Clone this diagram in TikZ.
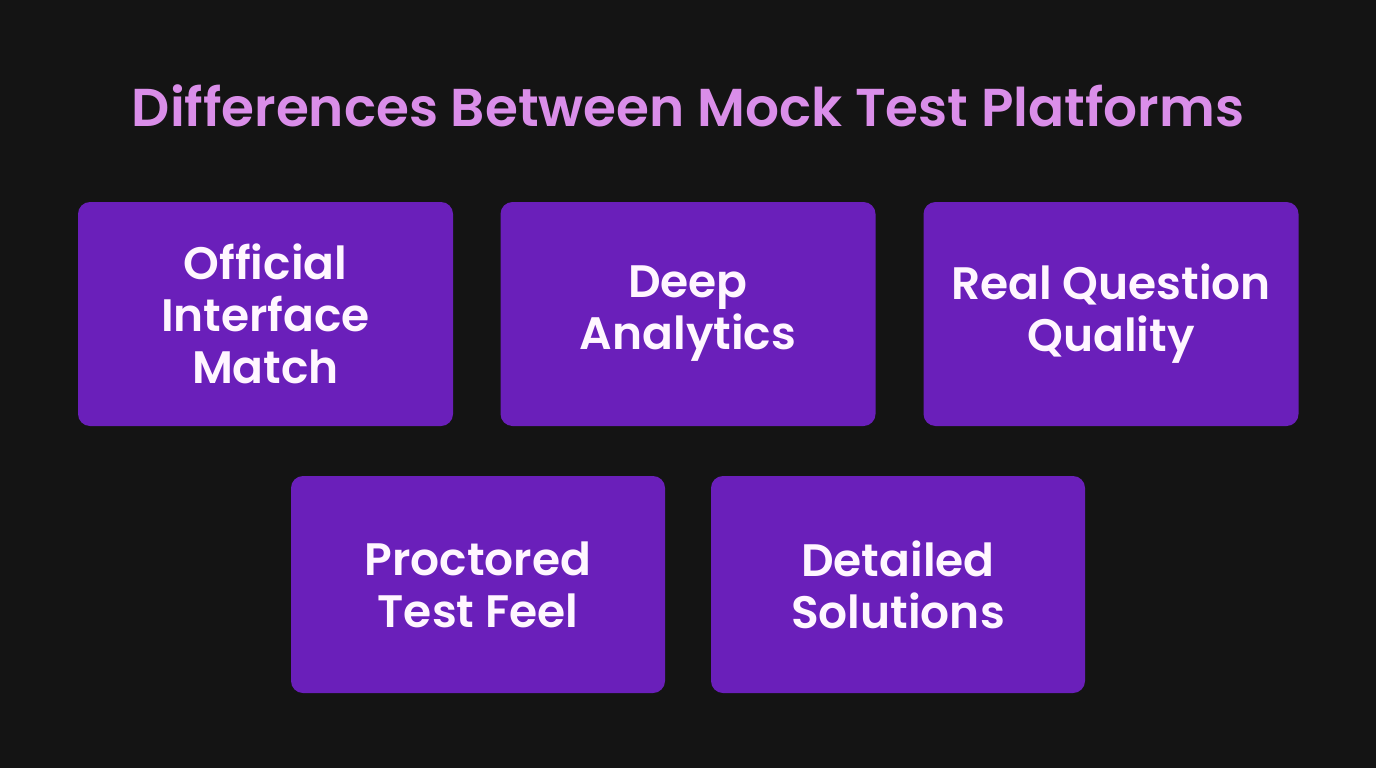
\documentclass[tikz,border=0pt]{standalone}
\usepackage{fontspec}
\setmainfont{Poppins}[BoldFont={Poppins SemiBold}]

\definecolor{bgdark}{HTML}{141414}
\definecolor{cardfill}{HTML}{6A1FBA}
\definecolor{titlepink}{HTML}{DA8EE9}
\definecolor{cardtext}{HTML}{FFF6FF}

\tikzset{
  card/.style={fill=cardfill, rounded corners=12pt, align=center, text=cardtext,
    font=\fontsize{45.5}{52}\selectfont\bfseries, inner sep=0pt},
  topcard/.style={card, minimum width=375pt, minimum height=224pt},
  lowcard/.style={card, minimum width=374pt, minimum height=217pt}
}

\begin{document}
\begin{tikzpicture}[x=1pt,y=-1pt]
            \fill[bgdark] (0,0) rectangle (1376,768);
            \useasboundingbox (0,0) rectangle (1376,768);
            \node[text=titlepink, font=\fontsize{53.3}{60}\selectfont\bfseries] (title) at (688,106) {Differences Between Mock Test Platforms};
            % top row
            \node[topcard] (official) at (265.5,314) {Official\\Interface\\Match};
            \node[topcard] (analytics) at (688,314) {Deep\\Analytics};
            \node[topcard] (quality) at (1111,314) {Real Question\\Quality};
            % bottom row
            \node[lowcard] (proctored) at (478,584.5) {Proctored\\Test Feel};
            \node[lowcard] (solutions) at (898,584.5) {Detailed\\Solutions};
        \end{tikzpicture}
\end{document}
